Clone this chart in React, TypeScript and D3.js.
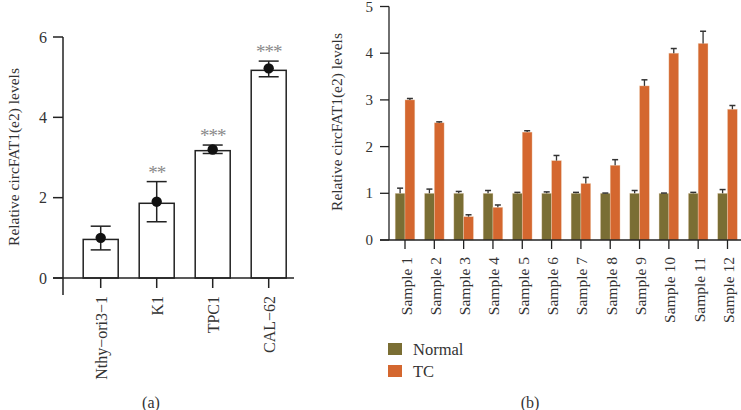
import React from "react";
import * as d3 from "d3";

const cellLines = ["Nthy\u2212ori3\u22121", "K1", "TPC1", "CAL\u221262"];
const cellBarValues = [0.96, 1.86, 3.17, 5.17];
const cellDotValues = [1.0, 1.9, 3.2, 5.22];
const cellErrLow = [0.7, 1.4, 3.1, 5.01];
const cellErrHigh = [1.29, 2.4, 3.31, 5.4];
const cellSig = ["", "**", "***", "***"];
const leftTicks = [0, 2, 4, 6];

const samples = ["Sample 1", "Sample 2", "Sample 3", "Sample 4", "Sample 5", "Sample 6", "Sample 7", "Sample 8", "Sample 9", "Sample 10", "Sample 11", "Sample 12"];
const groups = ["Normal", "TC"];
const normalValues = [1, 1, 1, 1, 1, 1, 1, 1, 1, 1, 1, 1];
const normalErr = [0.11, 0.09, 0.04, 0.06, 0.02, 0.03, 0.02, 0.005, 0.06, 0.005, 0.02, 0.08];
const tcValues = [3.0, 2.51, 0.5, 0.7, 2.31, 1.7, 1.21, 1.6, 3.3, 4.0, 4.21, 2.8];
const tcErr = [0.03, 0.02, 0.04, 0.05, 0.03, 0.11, 0.13, 0.12, 0.13, 0.1, 0.26, 0.08];
const rightTicks = [0, 1, 2, 3, 4, 5];

const colors = { Normal: "#7a6e34", TC: "#d4672f" };
const font = "'Liberation Serif', 'DejaVu Serif', serif";
const textColor = "#333";
const axisColor = "#222";

export default function App() {
  // Left chart
  const yL = d3.scaleLinear().domain([0, 6]).range([278, 37]);
  const xL = d3.scalePoint<string>().domain(cellLines).range([100.7, 268.7]);
  const barW = 35;

  // Right chart
  const yR = d3.scaleLinear().domain([0, 5]).range([240, 6.5]);
  const xR = d3.scalePoint<string>().domain(samples).range([405, 727.5]);
  const sub = d3.scaleBand<string>().domain(groups).range([-9.8, 9.8]);
  const series = [
    { key: "Normal", values: normalValues, err: normalErr },
    { key: "TC", values: tcValues, err: tcErr },
  ];

  return (
    <svg
      width={741}
      height={410}
      style={{ position: "absolute", left: 0, top: 0, background: "#fff" }}
      fontFamily={font}
    >
      {/* ===== Left chart ===== */}
      <g>
        {cellLines.map((c, i) => (
          <rect
            key={c}
            x={xL(c)! - barW / 2}
            y={yL(cellBarValues[i])}
            width={barW}
            height={yL(0) - yL(cellBarValues[i])}
            fill="#fff"
            stroke={axisColor}
            strokeWidth={1.5}
          />
        ))}
        {cellLines.map((c, i) => {
          const cx = xL(c)!;
          return (
            <g key={c} stroke={axisColor} strokeWidth={1.5}>
              <line x1={cx} x2={cx} y1={yL(cellErrHigh[i])} y2={yL(cellErrLow[i])} />
              <line x1={cx - 10} x2={cx + 10} y1={yL(cellErrHigh[i])} y2={yL(cellErrHigh[i])} />
              <line x1={cx - 10} x2={cx + 10} y1={yL(cellErrLow[i])} y2={yL(cellErrLow[i])} />
            </g>
          );
        })}
        {cellLines.map((c, i) => (
          <circle key={c} cx={xL(c)!} cy={yL(cellDotValues[i])} r={5.2} fill="#111" />
        ))}
        {cellLines.map((c, i) =>
          cellSig[i] ? (
            <text
              key={c}
              x={xL(c)!}
              y={yL(cellErrHigh[i]) - 3}
              textAnchor="middle"
              fontSize={19}
              letterSpacing={-1}
              fill="#8a8a8a"
            >
              {cellSig[i]}
            </text>
          ) : null
        )}
        {/* y axis */}
        <line x1={63} x2={63} y1={yL(6)} y2={yL(0) + 17} stroke={axisColor} strokeWidth={1.5} />
        {leftTicks.map((t) => (
          <g key={t}>
            <line x1={53} x2={63} y1={yL(t)} y2={yL(t)} stroke={axisColor} strokeWidth={1.5} />
            <text x={47} y={yL(t)} textAnchor="end" dominantBaseline="central" fontSize={16} fill={textColor}>
              {t}
            </text>
          </g>
        ))}
        {/* x axis */}
        <line x1={53} x2={294} y1={yL(0)} y2={yL(0)} stroke={axisColor} strokeWidth={1.5} />
        {cellLines.map((c) => (
          <g key={c}>
            <line x1={xL(c)!} x2={xL(c)!} y1={yL(0)} y2={yL(0) + 10} stroke={axisColor} strokeWidth={1.5} />
            <text
              transform={`translate(${xL(c)! + 1},${yL(0) + 18}) rotate(-90)`}
              textAnchor="end"
              dominantBaseline="central"
              fontSize={16}
              fill={textColor}
            >
              {c}
            </text>
          </g>
        ))}
        <text
          transform={`translate(13,157) rotate(-90)`}
          textAnchor="middle"
          dominantBaseline="central"
          fontSize={15.5}
          fill={textColor}
        >
          Relative circFAT1(e2) levels
        </text>
        <text x={151} y={402} textAnchor="middle" dominantBaseline="central" fontSize={16} fill={textColor}>
          (a)
        </text>
      </g>

      {/* ===== Right chart ===== */}
      <g>
        {series.map((s) =>
          samples.map((smp, i) => {
            const x0 = xR(smp)! + sub(s.key)!;
            const w = sub.bandwidth();
            const top = yR(s.values[i]);
            const errTop = yR(s.values[i] + s.err[i]);
            const cx = x0 + w / 2;
            return (
              <g key={s.key + smp}>
                <rect
                  x={x0}
                  y={top}
                  width={w}
                  height={yR(0) - top}
                  fill={(colors as any)[s.key]}
                  stroke="#f0d9c0"
                  strokeOpacity={0.6}
                  strokeWidth={0.6}
                />
                <line x1={cx} x2={cx} y1={top} y2={errTop} stroke="#333" strokeWidth={1.3} />
                <line x1={cx - 3} x2={cx + 3} y1={errTop} y2={errTop} stroke="#333" strokeWidth={1.5} />
              </g>
            );
          })
        )}
        {/* y axis */}
        <line x1={389} x2={389} y1={yR(5)} y2={yR(0)} stroke={axisColor} strokeWidth={1.3} />
        {rightTicks.map((t) => (
          <g key={t}>
            <line x1={380} x2={389} y1={yR(t)} y2={yR(t)} stroke={axisColor} strokeWidth={1.3} />
            <text x={373} y={yR(t)} textAnchor="end" dominantBaseline="central" fontSize={15} fill={textColor}>
              {t}
            </text>
          </g>
        ))}
        {/* x axis */}
        <line x1={380} x2={741} y1={yR(0)} y2={yR(0)} stroke={axisColor} strokeWidth={1.3} />
        {samples.map((smp) => (
          <g key={smp}>
            <line x1={xR(smp)!} x2={xR(smp)!} y1={yR(0)} y2={yR(0) + 9} stroke={axisColor} strokeWidth={1.3} />
            <text
              transform={`translate(${xR(smp)! + 1},${yR(0) + 17}) rotate(-90)`}
              textAnchor="end"
              dominantBaseline="central"
              fontSize={15.5}
              fill={textColor}
            >
              {smp}
            </text>
          </g>
        ))}
        <text
          transform={`translate(336,122) rotate(-90)`}
          textAnchor="middle"
          dominantBaseline="central"
          fontSize={15.5}
          fill={textColor}
        >
          Relative circFAT1(e2) levels
        </text>
        {/* legend */}
        {groups.map((g, i) => (
          <g key={g} transform={`translate(388,${343 + i * 22})`}>
            <rect x={0} y={0} width={14} height={12} fill={(colors as any)[g]} />
            <text x={25} y={6} dominantBaseline="central" fontSize={16.5} fill={textColor}>
              {g}
            </text>
          </g>
        ))}
        <text x={530} y={402} textAnchor="middle" dominantBaseline="central" fontSize={16} fill={textColor}>
          (b)
        </text>
      </g>
    </svg>
  );
}
